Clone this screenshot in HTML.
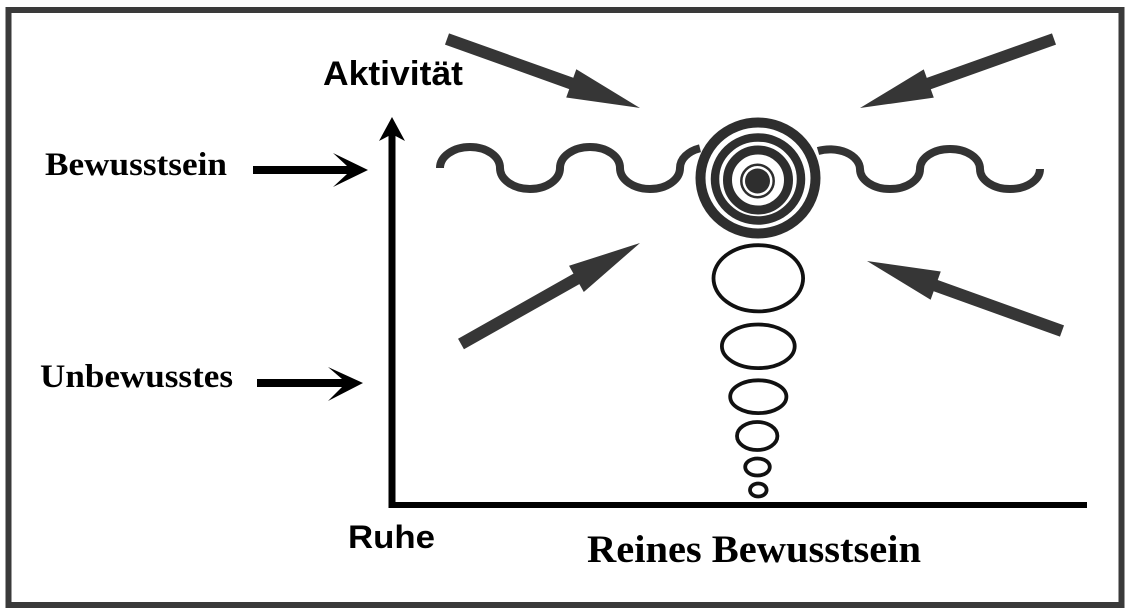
<!DOCTYPE html>
<html>
<head>
<meta charset="utf-8">
<style>
  html, body { margin: 0; padding: 0; background: #ffffff; }
  svg { display: block; }
</style>
</head>
<body>
<svg width="1132" height="616" viewBox="0 0 1132 616" xmlns="http://www.w3.org/2000/svg">
  <rect x="0" y="0" width="1132" height="616" fill="#ffffff"/>
  <!-- frame -->
  <rect x="8.5" y="10" width="1113" height="595" fill="none" stroke="#3a3a3a" stroke-width="6"/>

  <!-- texts -->
  <text x="323" y="85" font-family="'Liberation Sans', Arial, sans-serif" font-weight="bold" font-size="34" textLength="140" lengthAdjust="spacingAndGlyphs" fill="#000">Aktivität</text>
  <text x="45" y="175" font-family="'Liberation Serif', 'Times New Roman', serif" font-weight="bold" font-size="33" textLength="182" lengthAdjust="spacingAndGlyphs" fill="#000">Bewusstsein</text>
  <text x="40" y="387" font-family="'Liberation Serif', 'Times New Roman', serif" font-weight="bold" font-size="33" textLength="193" lengthAdjust="spacingAndGlyphs" fill="#000">Unbewusstes</text>
  <text x="348" y="548" font-family="'Liberation Sans', Arial, sans-serif" font-weight="bold" font-size="32" textLength="87" lengthAdjust="spacingAndGlyphs" fill="#000">Ruhe</text>
  <text x="587" y="562" font-family="'Liberation Serif', 'Times New Roman', serif" font-weight="bold" font-size="39" textLength="334" lengthAdjust="spacingAndGlyphs" fill="#000">Reines Bewusstsein</text>

  <!-- black label arrows -->
  <polygon points="253,166 347,166 333,153 368,170 333,187 347,174 253,174" fill="#000"/>
  <polygon points="257,379 342,379 328,367 363,383 328,401 342,387 257,387" fill="#000"/>

  <!-- axes -->
  <polygon points="392,117 405,141 395.5,136 395.5,508 388.5,508 388.5,136 379,141" fill="#000"/>
  <rect x="388.5" y="502" width="698.5" height="6" fill="#000"/>

  <!-- waves -->
  <path d="M 440,168 A30,21 0 0 1 500,168 A30,21 0 0 0 560,168 A30,21 0 0 1 620,168 A30,21 0 0 0 680,168 A30,21 0 0 1 700,148.2"
        fill="none" stroke="#333" stroke-width="8"/>
  <path d="M 818,151 A30,20 0 0 1 860,169 A30,20 0 0 0 920,169 A30,20 0 0 1 980,169 A30,20 0 0 0 1040,169"
        fill="none" stroke="#333" stroke-width="8"/>

  <!-- concentric circles -->
  <ellipse cx="758" cy="178" rx="57.5" ry="55.5" fill="none" stroke="#2e2e2e" stroke-width="10"/>
  <ellipse cx="758" cy="179" rx="43" ry="41.5" fill="none" stroke="#2e2e2e" stroke-width="8.5"/>
  <ellipse cx="758" cy="180" rx="30.5" ry="30" fill="none" stroke="#2e2e2e" stroke-width="9"/>
  <circle cx="757.5" cy="181" r="16.2" fill="none" stroke="#2e2e2e" stroke-width="2.5"/>
  <circle cx="757.5" cy="181" r="12.5" fill="#2e2e2e"/>

  <!-- ellipses below -->
  <g fill="none" stroke="#111" stroke-width="3.8">
    <ellipse cx="758.3" cy="278.3" rx="44.8" ry="33.1"/>
    <ellipse cx="758.3" cy="346.3" rx="36.4" ry="21.8"/>
    <ellipse cx="758.3" cy="396.7" rx="28.1" ry="16.4"/>
    <ellipse cx="757.2" cy="436" rx="20.2" ry="14"/>
    <ellipse cx="757.5" cy="467" rx="12.3" ry="8.5"/>
    <ellipse cx="758.3" cy="490" rx="8.3" ry="6.5"/>
  </g>

  <!-- gray diagonal arrows -->
  <g fill="#363636">
    <polygon points="444.98,44.65 569.24,89.08 566.21,97.56 640,108 576.31,69.30 573.28,77.78 449.02,33.35"/>
    <polygon points="1051.99,33.35 926.77,77.89 923.75,69.41 860,108 933.81,97.67 930.79,89.19 1056.01,44.65"/>
    <polygon points="463.95,349.23 579.37,284.11 583.79,291.95 640,243 569.05,265.81 573.47,273.65 458.05,338.77"/>
    <polygon points="1064.03,325.35 937.73,280.01 940.77,271.54 867,261 930.63,299.78 933.67,291.31 1059.97,336.65"/>
  </g>
</svg>
</body>
</html>
